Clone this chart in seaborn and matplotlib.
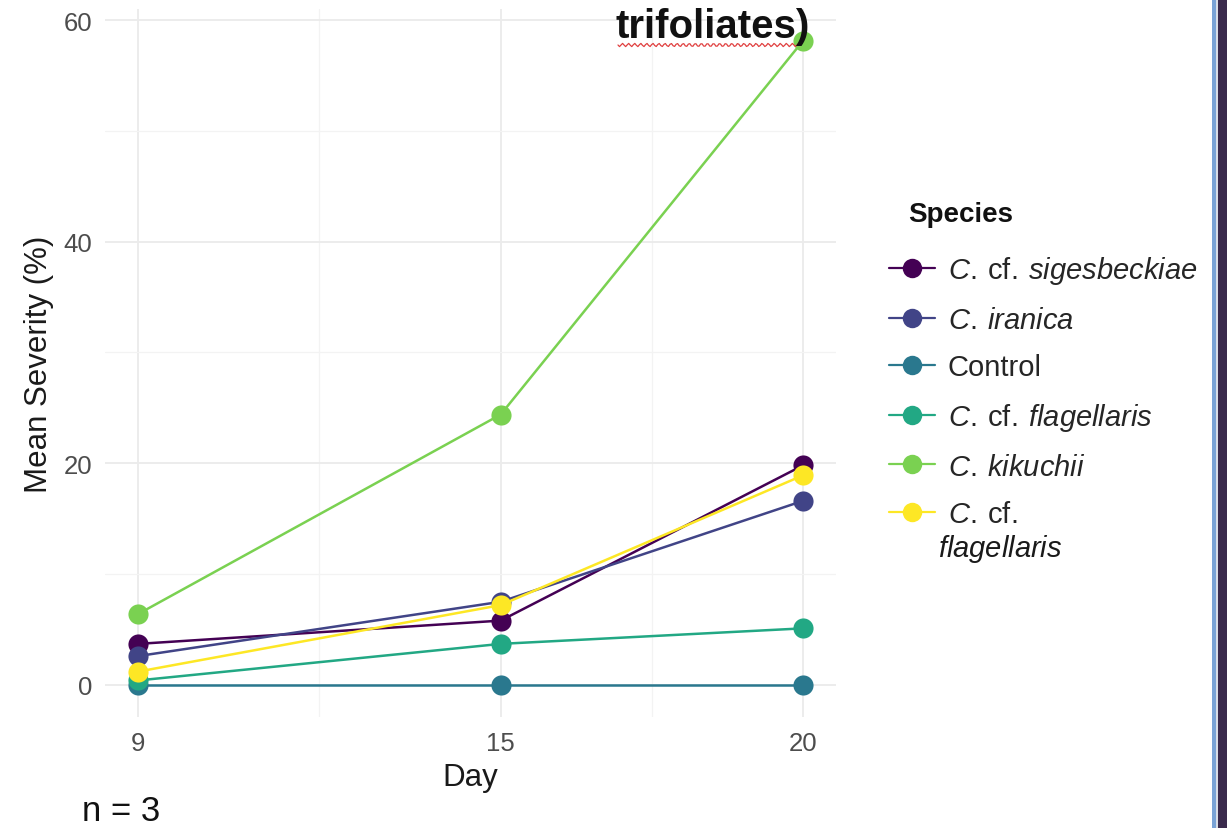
import numpy as np
import pandas as pd
import matplotlib
matplotlib.use("Agg")
import matplotlib.pyplot as plt
from matplotlib.lines import Line2D
from matplotlib.patches import Rectangle
import seaborn as sns

days = [9, 15, 20]
species = ["C. cf. sigesbeckiae", "C. iranica", "Control",
           "C. cf. flagellaris", "C. kikuchii", "C. cf. flagellaris (2)"]
labels = [r"$\it{C.}\:\mathrm{cf.}\:\it{sigesbeckiae}$", r"$\it{C.\:iranica}$", "Control",
          r"$\it{C.}\:\mathrm{cf.}\:\it{flagellaris}$", r"$\it{C.\:kikuchii}$",
          "$\\it{C.}\\:\\mathrm{cf.}$\n$\\it{flagellaris}$"]
sigesbeckiae = [3.7, 5.8, 19.8]
iranica = [2.6, 7.5, 16.6]
control = [0.0, 0.0, 0.0]
flagellaris = [0.4, 3.7, 5.1]
kikuchii = [6.4, 24.4, 58.1]
flagellaris2 = [1.2, 7.2, 18.9]
colors = ["#440154", "#414487", "#2A788E", "#22A884", "#7AD151", "#FDE725"]

series = [sigesbeckiae, iranica, control, flagellaris, kikuchii, flagellaris2]
df = pd.DataFrame({
    "Day": days * len(species),
    "Severity": sum(series, []),
    "Species": [s for s in species for _ in days],
})

sns.set_style("white")
plt.rcParams["font.family"] = ["Liberation Sans", "DejaVu Sans"]
plt.rcParams["mathtext.fontset"] = "custom"
plt.rcParams["mathtext.rm"] = "Liberation Sans"
plt.rcParams["mathtext.it"] = "Liberation Sans:italic"
plt.rcParams["mathtext.bf"] = "Liberation Sans:bold"

fig = plt.figure(figsize=(12.27, 8.29), dpi=100)
ax = fig.add_axes([105 / 1227, 1 - 718 / 829, (836 - 105) / 1227, (718 - 10) / 829])

sns.lineplot(data=df, x="Day", y="Severity", hue="Species", hue_order=species,
             palette=colors, marker="o", markersize=14.5, markeredgewidth=0,
             linewidth=1.8, ax=ax, legend=False, sort=True)

ax.set_xlim(8.45, 20.55)
ax.set_ylim(-2.9, 61.0)
ax.set_xticks(days)
ax.set_xticks([12, 17.5], minor=True)
ax.set_yticks([0, 20, 40, 60])
ax.set_yticks([10, 30, 50], minor=True)
ax.grid(True, which="major", color="#ebebeb", linewidth=1.3)
ax.grid(True, which="minor", color="#f3f3f3", linewidth=0.9)
ax.set_axisbelow(True)
for sp in ax.spines.values():
    sp.set_visible(False)
ax.tick_params(axis="both", which="both", length=0, labelsize=18.5,
               labelcolor="#4d4d4d")
ax.tick_params(axis="x", pad=10)
ax.tick_params(axis="y", pad=9)
ax.set_xlabel("Day", fontsize=22.5, color="#1a1a1a", labelpad=5)
ax.set_ylabel("Mean Severity (%)", fontsize=22.5, color="#1a1a1a", labelpad=7)

# legend: first line of each label next to its key; wrapped continuation set below
first_lines = [lab.split("\n")[0] for lab in labels]
handles = [Line2D([0], [0], color=c, marker="o", markersize=14, linewidth=1.6,
                  markeredgewidth=0) for c in colors]
leg = fig.legend(handles, first_lines, loc="upper left",
                 bbox_to_anchor=(869 / 1227, 1 - 235 / 829), frameon=False,
                 fontsize=21, labelspacing=0.67, handlelength=1.55,
                 handletextpad=0.45, borderpad=0.2)
fig.text(908 / 1227, 1 - 215 / 829, "Species", fontsize=20, fontweight="bold",
         ha="left", va="center", color="#111111")
for lab in labels:
    if "\n" in lab:
        fig.text(938 / 1227, 1 - 549 / 829, lab.split("\n")[1], fontsize=21,
                 ha="left", va="center", color="#1a1a1a")

fig.text(615 / 1227, 1 - 27 / 829, "trifoliates)", fontsize=29, fontweight="bold",
         ha="left", va="center", color="#111111")
xs = np.linspace(618 / 1227, 800 / 1227, 120)
ys = 1 - (46 + 1.6 * np.sin(np.linspace(0, 60 * np.pi, 120))) / 829
fig.add_artist(Line2D(xs, ys, color="#e04040", linewidth=0.9, transform=fig.transFigure))

fig.text(82 / 1227, 1 - 812 / 829, "n = 3", fontsize=25, ha="left", va="center",
         color="#111111")

fig.add_artist(Rectangle((1212 / 1227, 0), 4 / 1227, 1, transform=fig.transFigure,
                         color="#7aa3d6", linewidth=0))
fig.add_artist(Rectangle((1216 / 1227, 0), 2 / 1227, 1, transform=fig.transFigure,
                         color="#d8dde6", linewidth=0))
fig.add_artist(Rectangle((1218 / 1227, 0), 9 / 1227, 1, transform=fig.transFigure,
                         color="#3a2a4c", linewidth=0))

fig.savefig("out.png", dpi=100)
